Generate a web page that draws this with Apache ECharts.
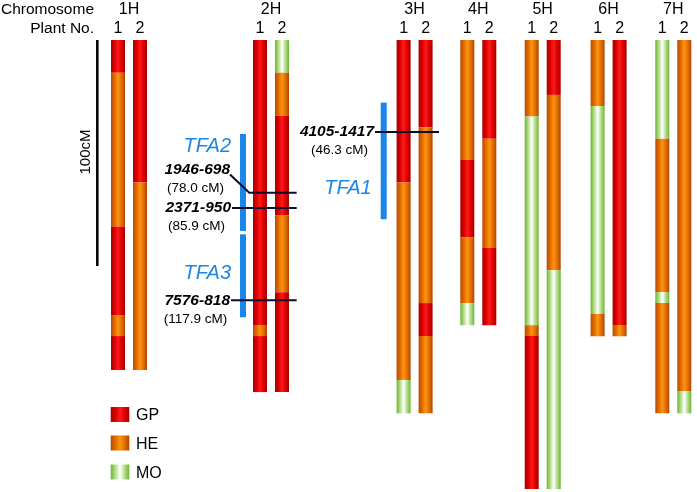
<!DOCTYPE html>
<html><head><meta charset="utf-8">
<script src="https://cdn.jsdelivr.net/npm/echarts@6/dist/echarts.min.js"></script>
<style>html,body{margin:0;padding:0;background:#fff}#c{width:697px;height:492px}</style>
</head><body><div id="c"></div>
<script>
// ---------- DATA ----------
const chromosomes = ['1H','2H','3H','4H','5H','6H','7H'];
const plants = ['1','2'];
const genotypes = ['GP','HE','MO'];
// segments along each chromosome: [genotype, start cM, end cM]
const h1p1 = [['GP',0,14.5],['HE',14.5,82.5],['GP',82.5,121.7],['HE',121.7,131],['GP',131,146]];
const h1p2 = [['GP',0,63.1],['HE',63.1,146]];
const h2p1 = [['GP',0,126.1],['HE',126.1,131],['GP',131,155.8]];
const h2p2 = [['MO',0,14.5],['HE',14.5,33.6],['GP',33.6,77.7],['HE',77.7,111.6],['GP',111.6,155.8]];
const h3p1 = [['GP',0,63.1],['HE',63.1,150.4],['MO',150.4,165.2]];
const h3p2 = [['GP',0,38.6],['HE',38.6,116.4],['GP',116.4,131],['HE',131,165.2]];
const h4p1 = [['HE',0,53.1],['GP',53.1,87.3],['HE',87.3,116.4],['MO',116.4,126.2]];
const h4p2 = [['GP',0,43.7],['HE',43.7,92.0],['GP',92.0,126.2]];
const h5p1 = [['HE',0,33.9],['MO',33.9,126.2],['HE',126.2,131],['GP',131,198.7]];
const h5p2 = [['GP',0,24.3],['HE',24.3,101.9],['MO',101.9,198.7]];
const h6p1 = [['HE',0,29.2],['MO',29.2,121.2],['HE',121.2,131.1]];
const h6p2 = [['GP',0,126.1],['HE',126.1,131.1]];
const h7p1 = [['MO',0,43.7],['HE',43.7,111.5],['MO',111.5,116.4],['HE',116.4,165.2]];
const h7p2 = [['HE',0,155.3],['MO',155.3,165.2]];
const segmentsByChrom = [[h1p1,h1p2],[h2p1,h2p2],[h3p1,h3p2],[h4p1,h4p2],[h5p1,h5p2],[h6p1,h6p2],[h7p1,h7p2]];

const markerNames = ['1946-698','2371-950','7576-818','4105-1417'];
const markerCM = ['78.0','85.9','117.9','46.3'];
const markerPos = [67.6, 74.3, 115.2, 40.7];

const qtlNames = ['TFA2','TFA3','TFA1'];
const qtlStart = [41.6, 86.0, 27.7];
const qtlEnd = [84.5, 122.7, 79.3];

const scaleLength = 100;
const scaleLabel = '100cM';

// ---------- LAYOUT (positions / styles) ----------
const FONT = '"Liberation Sans", Arial, sans-serif';
const chromCenterX = [129, 271, 414.6, 478.3, 542.7, 608.6, 673.3];
const plantOffset = [-11, 11];
const barW = 14;
const markerTextRight = [230, 231, 230, 374];
const markerLineEnd = [296.7, 296.7, 296.7, 439];
const markerNameDy = [-22.7, 0, 0, 0];
const qtlBarX = [243, 243, 383.7];
const qtlLabelRight = [231, 231, 371.7];
const qtlLabelAt = [47.2, 103.2, 65.6];
const scaleX = 97.3;

function grad(stops) {
  return {type:'linear', x:0, y:0, x2:1, y2:0, colorStops: stops.map((c,i)=>({offset: i/(stops.length-1), color:c}))};
}
const fills = {
  GP: grad(['#a80000','#d80000','#ff1a1a','#e00000','#a00000']),
  HE: grad(['#b84a00','#e06a00','#ff9410','#e07000','#b04400']),
  MO: grad(['#6ab52e','#b4dc8a','#ffffff','#b4dc8a','#6ab52e'])
};

// ---------- build tables ----------
const segData = [];
segmentsByChrom.forEach((pair, ci) => {
  pair.forEach((segs, pi) => {
    segs.forEach(s => segData.push([chromCenterX[ci] + plantOffset[pi], s[1], s[2], genotypes.indexOf(s[0])]));
  });
});
const markerData = markerNames.map((n,i)=>[i, markerPos[i]]);
const qtlData = qtlNames.map((n,i)=>[qtlBarX[i], qtlStart[i], qtlEnd[i], i]);

const chart = echarts.init(document.getElementById('c'), null, {renderer:'canvas'});

const headerGraphics = [
  {type:'text', style:{text:'Chromosome', x:94, y:9.5, align:'right', verticalAlign:'middle', font:'15.5px '+FONT, fill:'#000'}},
  {type:'text', style:{text:'Plant No.', x:94, y:28.5, align:'right', verticalAlign:'middle', font:'15.5px '+FONT, fill:'#000'}}
];
chromosomes.forEach((c, ci) => {
  headerGraphics.push({type:'text', style:{text:c, x:chromCenterX[ci], y:9.5, align:'center', verticalAlign:'middle', font:'16px '+FONT, fill:'#000'}});
  plants.forEach((p, pi) => {
    headerGraphics.push({type:'text', style:{text:p, x:chromCenterX[ci]+plantOffset[pi], y:28.5, align:'center', verticalAlign:'middle', font:'16px '+FONT, fill:'#000'}});
  });
});
// legend
const legendY = [414.5, 443, 472];
genotypes.forEach((g, i) => {
  headerGraphics.push({type:'rect', shape:{x:110.7, y:legendY[i]-7.5, width:18.6, height:15}, style:{fill: fills[g]}});
  headerGraphics.push({type:'text', style:{text:g, x:136, y:legendY[i]+1.5, align:'left', verticalAlign:'middle', font:'16px '+FONT, fill:'#000'}});
});

chart.setOption({
  animation: false,
  grid: {left:0, right:0, top:40, bottom:0},
  xAxis: {type:'value', min:0, max:697, show:false},
  yAxis: {type:'value', min:0, max:200, inverse:true, show:false},
  graphic: headerGraphics,
  series: [
    { // chromosome segments
      type:'custom', data: segData, encode:{x:0, y:[1,2]},
      renderItem: function(params, api){
        const x = api.value(0);
        const p0 = api.coord([x, api.value(1)]);
        const p1 = api.coord([x, api.value(2)]);
        return {type:'rect', shape:{x:p0[0]-barW/2, y:p0[1], width:barW, height:p1[1]-p0[1]},
          style:{fill: fills[genotypes[api.value(3)]]}};
      }
    },
    { // scale bar
      type:'custom', data:[[scaleX, 0, scaleLength]], encode:{x:0, y:[1,2]},
      renderItem: function(params, api){
        const p0 = api.coord([api.value(0), api.value(1)]);
        const p1 = api.coord([api.value(0), api.value(2)]);
        return {type:'group', children:[
          {type:'line', shape:{x1:p0[0], y1:p0[1], x2:p1[0], y2:p1[1]}, style:{stroke:'#000', lineWidth:2.5}},
          {type:'text', x:p0[0]-11, y:(p0[1]+p1[1])/2 - 1, rotation:Math.PI/2,
            style:{text:scaleLabel, align:'center', verticalAlign:'middle', font:'15px '+FONT, fill:'#000'}}
        ]};
      }
    },
    { // QTL intervals
      type:'custom', data: qtlData, encode:{x:0, y:[1,2]},
      renderItem: function(params, api){
        const i = api.value(3);
        const p0 = api.coord([api.value(0), api.value(1)]);
        const p1 = api.coord([api.value(0), api.value(2)]);
        const pl = api.coord([qtlLabelRight[i], qtlLabelAt[i]]);
        return {type:'group', children:[
          {type:'rect', shape:{x:p0[0]-3, y:p0[1], width:6, height:p1[1]-p0[1]}, style:{fill:'#1a86e8'}},
          {type:'text', style:{text:qtlNames[i], x:pl[0], y:pl[1], align:'right', verticalAlign:'middle',
            font:'italic 20px '+FONT, fill:'#1a86e8'}}
        ]};
      }
    },
    { // markers
      type:'custom', data: markerData, encode:{y:1},
      renderItem: function(params, api){
        const i = api.value(0);
        const pr = api.coord([markerTextRight[i], api.value(1)]);
        const pe = api.coord([markerLineEnd[i], api.value(1)]);
        const ly = pr[1];
        const ny = ly + markerNameDy[i];
        const children = [];
        if (markerNameDy[i] !== 0) {
          children.push({type:'polyline', shape:{points:[[pr[0], ny+4.5],[pr[0]+19.3, ly],[pe[0], ly]]},
            style:{stroke:'#0b0b2a', lineWidth:2, fill:null}});
        } else {
          children.push({type:'line', shape:{x1:pr[0]+1, y1:ly, x2:pe[0], y2:ly}, style:{stroke:'#0b0b2a', lineWidth:2}});
        }
        children.push({type:'text', style:{text:markerNames[i], x:pr[0], y:ny, align:'right', verticalAlign:'middle',
          font:'italic bold 15.5px '+FONT, fill:'#000'}});
        children.push({type:'text', style:{text:'('+markerCM[i]+' cM)', x:pr[0]-34.5, y:ny+18.5, align:'center', verticalAlign:'middle',
          font:'13.5px '+FONT, fill:'#000'}});
        return {type:'group', children: children};
      }
    }
  ]
});
</script></body></html>
